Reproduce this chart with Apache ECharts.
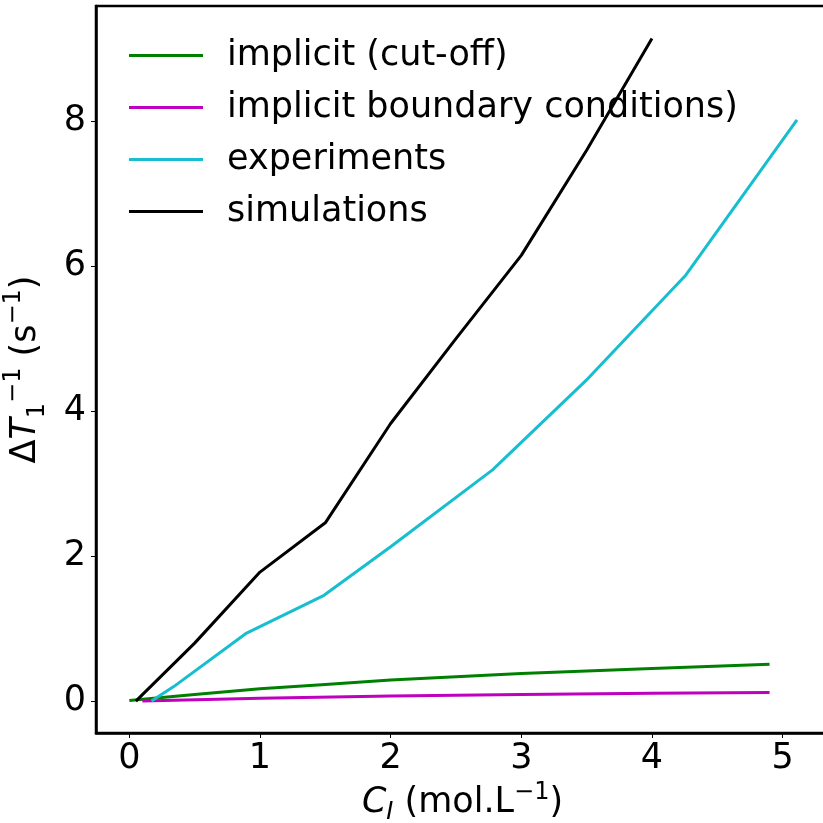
<!DOCTYPE html>
<html>
<head>
<meta charset="utf-8">
<script src="https://cdn.jsdelivr.net/npm/echarts@6/dist/echarts.min.js"></script>
<style>
  html, body { margin: 0; padding: 0; background: #fff; }
  #chart { width: 823px; height: 823px; }
</style>
</head>
<body>
<div id="chart"></div>
<script>
// data
const seriesNames = ['implicit (cut-off)', 'implicit boundary conditions)', 'experiments', 'simulations'];
const cutoffX = [0, 0.5, 1, 1.5, 2, 3, 4, 4.9];
const cutoffY = [0.01, 0.09, 0.17, 0.23, 0.29, 0.38, 0.45, 0.51];
const boundaryX = [0.1, 1, 2, 3, 4, 4.9];
const boundaryY = [0, 0.04, 0.07, 0.09, 0.11, 0.12];
const experimentsX = [0.17, 0.34, 0.89, 1.49, 2.0, 2.78, 3.51, 4.26, 5.11];
const experimentsY = [0, 0.2, 0.93, 1.46, 2.13, 3.19, 4.45, 5.88, 8.02];
const simulationsX = [0.05, 0.5, 1, 1.5, 2, 2.5, 3, 3.5, 4];
const simulationsY = [0, 0.8, 1.78, 2.46, 3.83, 5.0, 6.15, 7.6, 9.14];

const colors = ['#008000', '#bf00bf', '#17becf', '#000000'];
const font = 'DejaVu Sans';
const fs = 35;

function pairs(xs, ys) {
  return xs.map((x, i) => [x, ys[i]]);
}

const chart = echarts.init(document.getElementById('chart'), null, {renderer: 'canvas'});

const option = {
  animation: false,
  color: colors,
  textStyle: {fontFamily: font, color: '#000'},
  grid: {
    left: 96, top: 6, right: -6, bottom: 90,
    containLabel: false,
    outerBoundsMode: 'none',
    show: true, borderColor: '#000', borderWidth: 2.5
  },
  legend: {
    left: 124, top: 33,
    orient: 'vertical',
    icon: 'rect',
    itemWidth: 74, itemHeight: 3,
    itemGap: 17,
    textStyle: {fontFamily: font, fontSize: fs, color: '#000', lineHeight: 34, padding: [0, 0, 0, 19]},
    data: seriesNames
  },
  xAxis: {
    type: 'value',
    min: -0.255, max: 5.355,
    splitNumber: 5,
    splitLine: {show: false},
    axisLine: {onZero: false, lineStyle: {color: '#000', width: 2.5}},
    axisTick: {show: true, length: 5, lineStyle: {color: '#000', width: 1}},
    axisLabel: {color: '#000', fontSize: fs, fontFamily: font, margin: 8, showMinLabel: false, showMaxLabel: false},
    name: '{it|C}{sub|I} (mol.L{sup|−1})',
    nameLocation: 'middle',
    nameGap: 48,
    nameTextStyle: {
      color: '#000', fontSize: fs, fontFamily: font, lineHeight: 44,
      rich: {
        it: {fontStyle: 'italic', fontSize: fs, fontFamily: font},
        sub: {fontStyle: 'italic', fontSize: 24, fontFamily: font, verticalAlign: 'bottom', lineHeight: 44},
        sup: {fontSize: 24, fontFamily: font, verticalAlign: 'top', lineHeight: 44}
      }
    }
  },
  yAxis: {
    type: 'value',
    min: -0.44, max: 9.59,
    splitNumber: 5,
    splitLine: {show: false},
    axisLine: {onZero: false, lineStyle: {color: '#000', width: 2.5}},
    axisTick: {show: true, length: 5, lineStyle: {color: '#000', width: 1}},
    axisLabel: {color: '#000', fontSize: fs, fontFamily: font, margin: 10, showMinLabel: false, showMaxLabel: false},
    name: 'Δ{it|T}{sub|1}{sup|−1} (s{sup|−1})',
    nameLocation: 'middle',
    nameGap: 46,
    nameRotate: 90,
    nameTextStyle: {
      color: '#000', fontSize: fs, fontFamily: font, lineHeight: 48,
      rich: {
        it: {fontStyle: 'italic', fontSize: fs, fontFamily: font},
        sub: {fontSize: 24, fontFamily: font, verticalAlign: 'bottom', lineHeight: 48},
        sup: {fontSize: 24, fontFamily: font, verticalAlign: 'top', lineHeight: 48}
      }
    }
  },
  series: [
    {name: seriesNames[0], type: 'line', data: pairs(cutoffX, cutoffY)},
    {name: seriesNames[1], type: 'line', data: pairs(boundaryX, boundaryY)},
    {name: seriesNames[2], type: 'line', data: pairs(experimentsX, experimentsY)},
    {name: seriesNames[3], type: 'line', data: pairs(simulationsX, simulationsY)}
  ].map(s => Object.assign(s, {
    showSymbol: false,
    symbol: 'none',
    clip: true,
    lineStyle: {width: 3}
  }))
};

chart.setOption(option);
</script>
</body>
</html>
